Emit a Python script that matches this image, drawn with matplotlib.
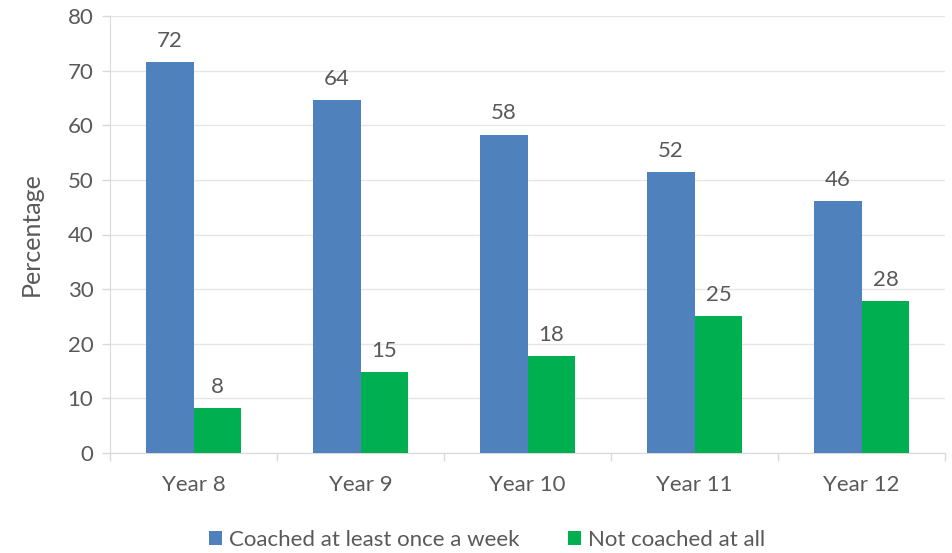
import matplotlib
matplotlib.use("Agg")
import matplotlib.pyplot as plt
import numpy as np

categories = ["Year 8", "Year 9", "Year 10", "Year 11", "Year 12"]
coached = [71.6, 64.6, 58.3, 51.5, 46.2]
coached_labels = ["72", "64", "58", "52", "46"]
not_coached = [8.2, 14.8, 17.7, 25.0, 27.8]
not_coached_labels = ["8", "15", "18", "25", "28"]
yticks = [0, 10, 20, 30, 40, 50, 60, 70, 80]

plt.rcParams['font.family'] = ['Lato', 'DejaVu Sans']
txt = '#595959'
blue = '#4F81BD'
green = '#00B050'

fig = plt.figure(figsize=(9.52, 5.53), dpi=100)
ax = fig.add_axes([110/952, 1-453/553, 835/952, 437/553])

x = np.arange(len(categories))
w = 0.287
b1 = ax.bar(x - w/2, coached, w, color=blue, label='Coached at least once a week', zorder=3)
b2 = ax.bar(x + w/2, not_coached, w, color=green, label='Not coached at all', zorder=3)
for rect, lab in zip(b1, coached_labels):
    ax.annotate(lab, (rect.get_x()+rect.get_width()/2, rect.get_height()), xytext=(0, 8),
                textcoords='offset points', ha='center', va='bottom', fontsize=16, color=txt)
for rect, lab in zip(b2, not_coached_labels):
    ax.annotate(lab, (rect.get_x()+rect.get_width()/2, rect.get_height()), xytext=(0, 8),
                textcoords='offset points', ha='center', va='bottom', fontsize=16, color=txt)

ax.set_xlim(-0.5, len(categories)-0.5)
ax.set_ylim(0, 80)
ax.set_yticks(yticks)
ax.set_yticklabels([str(t) for t in yticks], fontsize=16, color=txt)
ax.set_xticks(x)
ax.set_xticklabels(categories, fontsize=16, color=txt)
ax.set_xticks(np.arange(-0.5, len(categories)), minor=True)
ax.tick_params(axis='x', which='major', length=0, pad=16)
ax.tick_params(axis='x', which='minor', length=6, color='#d9d9d9', width=1)
ax.tick_params(axis='y', length=6, color='#d9d9d9', width=1, pad=6)
ax.grid(axis='y', color='#e6e6e6', linewidth=1, zorder=0)
for s in ['top', 'right']:
    ax.spines[s].set_visible(False)
ax.spines['left'].set_color('#d9d9d9')
ax.spines['bottom'].set_color('#d9d9d9')
ax.set_ylabel('Percentage', fontsize=18, color=txt, labelpad=18)

fig.legend(handles=[b1, b2], loc='center', bbox_to_anchor=(487/952, 1-540/553), ncol=2,
           frameon=False, fontsize=16, labelcolor=txt, handlelength=0.6, handleheight=0.6,
           handletextpad=0.3, columnspacing=2.2)

fig.savefig('out.png', dpi=100)
